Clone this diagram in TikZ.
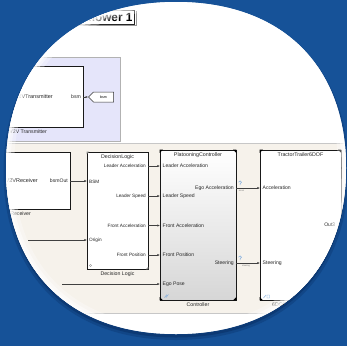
\documentclass[tikz,border=0pt]{standalone}
\usepackage{fontspec}
\setmainfont{Liberation Sans}
\usetikzlibrary{arrows.meta,shapes.symbols}

\definecolor{deskblue}{RGB}{22,82,152}
\definecolor{deskshade}{RGB}{9,50,104}
\definecolor{areabeige}{RGB}{246,242,235}
\definecolor{arealav}{RGB}{229,229,250}
\definecolor{iconblue}{RGB}{125,170,220}

\begin{document}
\begin{tikzpicture}[x=1pt,y=-1pt,
  lensshape/.style={insert path={(346,168) .. controls (346,270.9) and (281.4,334) .. (176,334)
      .. controls (70.6,334) and (6,270.9) .. (6,168)
      .. controls (6,65.1) and (70.6,2) .. (176,2)
      .. controls (281.4,2) and (346,65.1) .. (346,168) -- cycle}},
  blockbox/.style={draw=black!90, line width=0.6pt, fill=white, rectangle, inner sep=0pt},
  sig/.style={draw=black!75, line width=0.55pt, -{Latex[length=2.6pt,width=2.2pt]}},
  portl/.style={font=\fontsize{4.7}{5}\selectfont, text=black!85, inner sep=0pt},
  portc/.style={font=\fontsize{5.1}{6}\selectfont, text=black!85, inner sep=0pt},
  blocktitle/.style={font=\fontsize{5.3}{6}\selectfont, text=black!85, inner sep=0pt},
  blockname/.style={font=\fontsize{5.2}{6}\selectfont, text=black!85, inner sep=0pt},
  bigname/.style={font=\fontsize{5.5}{6}\selectfont, text=black!85, inner sep=0pt},
  tinylab/.style={font=\fontsize{2.2}{2.5}\selectfont, text=black!55, inner sep=0pt},
  cornermark/.style={fill=black}
]
\useasboundingbox (0,0) rectangle (347,346);
\fill[deskblue] (0,0) rectangle (347,346);

% soft dark halo under the lens
\begin{scope}[shift={(0,3.5)}]
  \fill[deskshade, opacity=0.6, lensshape];
  \draw[deskshade, opacity=0.35, line width=5pt, lensshape];
\end{scope}

% the lens itself
\fill[white, lensshape];

\begin{scope}
\clip[lensshape];

% model title annotation
\node[draw=black!85, line width=0.7pt, fill=white, anchor=east,
      font=\bfseries\fontsize{11.8}{13}\selectfont, text height=8.4pt, text depth=0pt,
      inner xsep=2.2pt, inner ysep=2.8pt] (title) at (135,17) {Follower 1};
\draw[black!40, line width=0.9pt] ([shift={(1.2,1.5)}]title.north east)
  -- ([shift={(1.2,1.2)}]title.south east) -- ([shift={(1.5,1.2)}]title.south west);

% V2V transmitter area
\fill[arealav] (-10,57) rectangle (120,141);
\draw[black!30, line width=0.4pt] (-10,57) -- (120,57) -- (120,141) -- (-10,141);

% controller area
\fill[areabeige] (-10,143) rectangle (360,313);
\draw[black!22, line width=0.5pt] (-10,143) -- (360,143);
\draw[black!22, line width=0.5pt] (-10,313) -- (360,313);

% ---- blocks ----
\node[blockbox, minimum width=113, minimum height=61] (tx) at (26.5,96.5) {};
\node[bigname, anchor=east] (txname) at (53,97) {V2VTransmitter};
\node[portc, anchor=east] (txport) at (81,97) {bsm};
\node[blockname, anchor=east] (txlabel) at (47,131.5) {V2V Transmitter};
\node[signal, signal to=west, signal pointer angle=90, draw=black!80, line width=0.5pt,
      fill=white, minimum width=25, minimum height=10, inner sep=0pt,
      font=\fontsize{3.6}{4}\selectfont] (gt) at (103.5,97) {bsm};

\node[blockbox, minimum width=100, minimum height=57] (rx) at (20,180.5) {};
\node[bigname, anchor=east] (rxname) at (38,181) {V2VReceiver};
\node[portc, anchor=east] (rxport) at (68,181) {bsmOut};
\node[blockname, anchor=east] (rxlabel) at (31,214) {V2V Receiver};

\node[blockbox, minimum width=61, minimum height=117] (dl) at (117.5,210.5) {};
\node[blocktitle] (dltitle) at (117.5,157.5) {DecisionLogic};
\node[portl, anchor=west] (dlinBSM) at (89,182) {BSM};
\node[portl, anchor=west] (dlinOrg) at (89,240) {Origin};
\node[portl, anchor=east] (dloLA) at (146,166) {Leader Acceleration};
\node[portl, anchor=east] (dloLS) at (146,196) {Leader Speed};
\node[portl, anchor=east] (dloFA) at (146,225.5) {Front Acceleration};
\node[portl, anchor=east] (dloFP) at (146,255) {Front Position};
\node[blockname] (dllabel) at (117.5,274) {Decision Logic};

\node[blockbox, top color=white, bottom color=black!16, minimum width=76, minimum height=150] (pc) at (198,225) {};
\node[blocktitle] (pctitle) at (198,155) {PlatooningController};
\node[portc, anchor=west] (pciLA) at (162.5,166) {Leader Acceleration};
\node[portc, anchor=west] (pciLS) at (162.5,196) {Leader Speed};
\node[portc, anchor=west] (pciFA) at (162.5,225.5) {Front Acceleration};
\node[portc, anchor=west] (pciFP) at (162.5,255) {Front Position};
\node[portc, anchor=west] (pciEP) at (162.5,284) {Ego Pose};
\node[portc, anchor=east] (pcoEA) at (234,188) {Ego Acceleration};
\node[portc, anchor=east] (pcoST) at (234,263) {Steering};
\node[blockname] (pclabel) at (198,305) {Controller};

\node[blockbox, minimum width=81, minimum height=150] (tt) at (300.5,225) {};
\node[blocktitle] (tttitle) at (300.5,155) {TractorTrailer6DOF};
\node[portc, anchor=west] (ttiAC) at (262.5,188) {Acceleration};
\node[portc, anchor=west] (ttiST) at (262.5,263) {Steering};
\node[portc, anchor=east] (ttoO3) at (335.5,225) {Out3};
\node[blockname, anchor=west] (ttlabel) at (272,305) {6DOF Tractor Trailer};

% corner marks of the subsystem blocks
\foreach \b in {pc,tt}{
  \fill[cornermark] (\b.north west) -- ++(3.2,0) -- ++(-3.2,3.2) -- cycle;
  \fill[cornermark] (\b.north east) -- ++(-3.2,0) -- ++(3.2,3.2) -- cycle;
  \fill[cornermark] (\b.south west) -- ++(3.2,0) -- ++(-3.2,-3.2) -- cycle;
  \fill[cornermark] (\b.south east) -- ++(-3.2,0) -- ++(3.2,-3.2) -- cycle;
}
\fill[black!45] (dl.north west) -- ++(2.4,0) -- ++(-2.4,2.4) -- cycle;
\fill[black!45] (dl.south east) -- ++(-2.4,0) -- ++(2.4,-2.4) -- cycle;
\draw[black!40, line width=0.35pt] (90.5,265.5) circle (1.1);

% small badge icons at the block corners
\draw[iconblue, line width=0.45pt] (164.5,297.5) -- (167,294.5) (166,297.5) -- (168.5,294.5);
\draw[iconblue, line width=0.45pt] (263.5,298) -- (266,295) (267,295) rectangle (269.5,298);

% output port of the plant
\fill[black!80] (tt.east |- ttoO3) ++(-2.6,-1.3) -- ++(2.6,1.3) -- ++(-2.6,1.3) -- cycle;

% ---- port coordinates ----
\coordinate (txbsm) at (83,97);
\coordinate (rxout) at (70,181);
\coordinate (dlbsm) at (87,181);
\coordinate (dlorg) at (87,240);
\coordinate (orgsrc) at (28,240);
\coordinate (posesrc) at (62,284);
\coordinate (dlLA) at (148,166);
\coordinate (dlLS) at (148,196);
\coordinate (dlFA) at (148,225.5);
\coordinate (dlFP) at (148,255);
\coordinate (pcLA) at (160,166);
\coordinate (pcLS) at (160,196);
\coordinate (pcFA) at (160,225.5);
\coordinate (pcFP) at (160,255);
\coordinate (pcEP) at (160,284);
\coordinate (pcEA) at (236,188);
\coordinate (pcST) at (236,263);
\coordinate (ttAC) at (260,188);
\coordinate (ttST) at (260,263);

% ---- signal lines ----
\draw[sig] (txbsm) -- (gt.west);
\draw[sig] (rxout) -- (dlbsm);
\draw[sig] (orgsrc) -- (dlorg);
\draw[sig] (posesrc) -- (pcEP);
\draw[sig] (dlLA) -- (pcLA);
\draw[sig] (dlLS) -- (pcLS);
\draw[sig] (dlFA) -- (pcFA);
\draw[sig] (dlFP) -- (pcFP);
\draw[sig] (pcEA) -- (ttAC);
\draw[sig] (pcST) -- (ttST);

% signal badges and names on the plant inputs
\draw[iconblue, line width=0.5pt] (238.6,182.2) .. controls (238.6,180.4) and (241.6,180.4) .. (241.6,182.2) -- (240.1,183.6) -- (240.1,185);
\draw[iconblue, line width=0.5pt] (238.6,257.2) .. controls (238.6,255.4) and (241.6,255.4) .. (241.6,257.2) -- (240.1,258.6) -- (240.1,260);
\node[tinylab] (eaname) at (241.5,191) {accel};
\node[tinylab] (stname) at (246,265.5) {steering};

% fade of the picture towards the rim of the lens
\draw[white, opacity=0.3, line width=16pt, lensshape];
\draw[white, opacity=0.45, line width=9pt, lensshape];
\draw[white, opacity=0.6, line width=4pt, lensshape];
\end{scope}
\end{tikzpicture}
\end{document}
